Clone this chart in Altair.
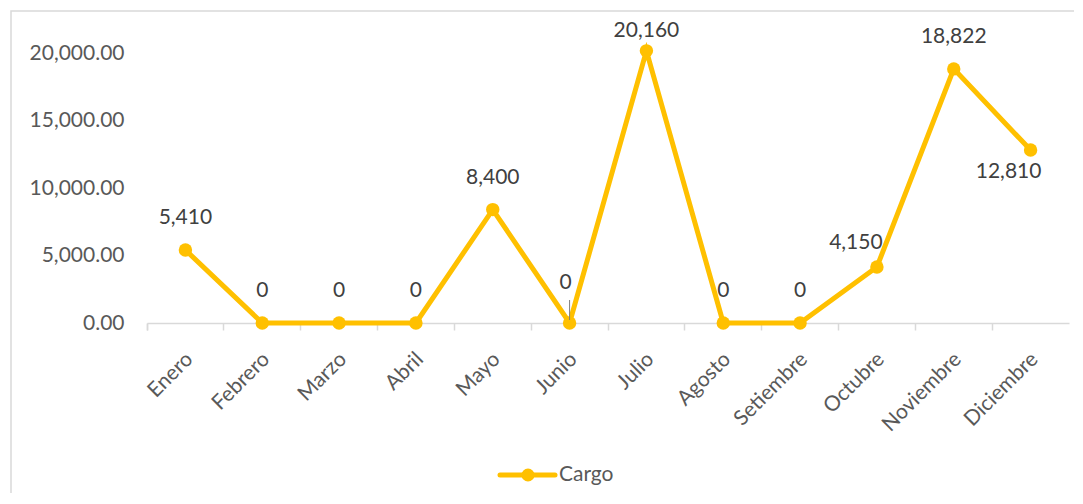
import altair as alt
import pandas as pd

months = ["Enero", "Febrero", "Marzo", "Abril", "Mayo", "Junio", "Julio",
          "Agosto", "Setiembre", "Octubre", "Noviembre", "Diciembre"]
cargo = [5410, 0, 0, 0, 8400, 0, 20160, 0, 0, 4150, 18822, 12810]
series_name = "Cargo"

df = pd.DataFrame({"mes": months, "valor": cargo})

YEL = "#FFC000"
TXT = "#404040"
AX = "#595959"
FONT = "Lato"
FS = 21

W, H = 922, 270

xscale = alt.Scale(domain=months, paddingInner=0, paddingOuter=0)
xenc = alt.X("mes:N", sort=months, title=None, scale=xscale,
             axis=alt.Axis(bandPosition=0, tickExtra=True, labels=False,
                           tickSize=7, tickColor="#d9d9d9", tickWidth=1.5,
                           domainColor="#d9d9d9", domainWidth=1.5))
yenc = alt.Y("valor:Q", title=None,
             scale=alt.Scale(domain=[0, 20000], nice=False),
             axis=alt.Axis(values=[0, 5000, 10000, 15000, 20000], format=",.2f",
                           labelFontSize=FS, labelColor=AX, labelFont=FONT,
                           labelPadding=23, ticks=False, domain=False, grid=False))

base = alt.Chart(df)

frame = base.mark_rect(fill=None, stroke="#d9d9d9", strokeWidth=1.5).encode(
    x=alt.value(-136), x2=alt.value(2000), y=alt.value(-42), y2=alt.value(1000)
).transform_filter(alt.datum.mes == "Enero")

line = base.mark_line(color=YEL, strokeWidth=5).encode(x=xenc, y=yenc)
pts = base.mark_circle(color=YEL, size=180, opacity=1).encode(x=xenc, y=yenc)

xlabels = base.mark_text(angle=315, align="right", baseline="top", dx=-5,
                         fontSize=FS, color=AX, font=FONT).encode(
    x=xenc, y=alt.value(H + 22), text="mes:N")

txt_kw = dict(fontSize=FS, color=TXT, font=FONT, baseline="middle")
normal = ["Enero", "Febrero", "Marzo", "Abril", "Mayo", "Agosto", "Setiembre", "Noviembre"]
lab_norm = base.mark_text(dy=-32, **txt_kw).encode(
    x=xenc, y=yenc, text=alt.Text("valor:Q", format=",d")
).transform_filter(alt.FieldOneOfPredicate(field="mes", oneOf=normal))
lab_jul = base.mark_text(dy=-20, **txt_kw).encode(
    x=xenc, y=yenc, text=alt.Text("valor:Q", format=",d")
).transform_filter(alt.datum.mes == "Julio")
lab_oct = base.mark_text(dx=-21, dy=-24, **txt_kw).encode(
    x=xenc, y=yenc, text=alt.Text("valor:Q", format=",d")
).transform_filter(alt.datum.mes == "Octubre")
lab_dic = base.mark_text(dx=-22, dy=22, **txt_kw).encode(
    x=xenc, y=yenc, text=alt.Text("valor:Q", format=",d")
).transform_filter(alt.datum.mes == "Diciembre")
lab_jun = base.mark_text(dx=-4, dy=-40, **txt_kw).encode(
    x=xenc, y=yenc, text=alt.Text("valor:Q", format=",d")
).transform_filter(alt.datum.mes == "Junio")
leader = base.mark_rule(color="#7f7f7f", strokeWidth=1).encode(
    x=xenc, y=alt.value(H - 23), y2=alt.value(H - 3)
).transform_filter(alt.datum.mes == "Junio")

leg_df = pd.DataFrame({"s": [series_name]})
leg = alt.Chart(leg_df)
leg_line = leg.mark_rule(color=YEL, strokeWidth=5, strokeCap="round").encode(
    x=alt.value(353), x2=alt.value(408), y=alt.value(422))
leg_pt = leg.mark_circle(color=YEL, size=170, opacity=1).encode(
    x=alt.value(381), y=alt.value(422))
leg_txt = leg.mark_text(align="left", baseline="middle", fontSize=FS, color=AX, font=FONT).encode(
    x=alt.value(412), y=alt.value(422), text="s:N")

chart = alt.layer(frame, line, pts, xlabels, lab_norm, lab_jul, lab_oct, lab_dic, lab_jun, leader,
                  leg_line, leg_pt, leg_txt).properties(
    width=W, height=H,
    autosize=alt.AutoSizeParams(type="none"),
    padding={"left": 139, "top": 45, "right": 5, "bottom": 170},
).configure_view(stroke=None)

chart.save("out.html", embed_options={"renderer": "svg", "actions": False})
